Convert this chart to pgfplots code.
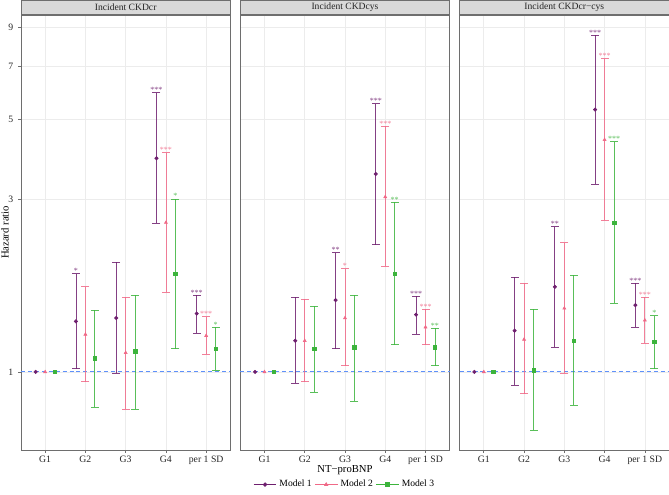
\documentclass[border=0pt]{standalone}
\usepackage{pgfplots}
\pgfplotsset{compat=1.18}
\usepackage{fontspec}
\setmainfont{Liberation Serif}

\definecolor{mA}{RGB}{110,30,110}
\definecolor{mB}{RGB}{240,105,135}
\definecolor{mC}{RGB}{60,180,60}
\definecolor{refline}{RGB}{95,145,250}
\definecolor{stripfill}{RGB}{217,217,217}
\definecolor{borderc}{RGB}{110,110,110}

% one estimate: #1 colour, #2 mark, #3 x, #4 HR, #5 lower, #6 upper, #7 stars
\newcommand{\est}[7]{%
\addplot[#1, opacity=0.85, line width=0.6pt, mark=-, mark size=3pt, forget plot]
  coordinates {(#3,#5) (#3,#6)};
\addplot[#1, only marks, mark=#2, mark size=1.3pt, forget plot]
  coordinates {(#3,#4)};
\node[text=#1, opacity=0.85, font=\fontsize{6}{6}\selectfont, anchor=base, inner sep=0pt]
  at (axis cs:#3,#6) {#7};
}
% facet strip: #1 text
\newcommand{\strip}[1]{%
\node[fill=stripfill, draw=borderc, line width=0.6pt, minimum width=157pt, minimum height=10.5pt,
  inner sep=0pt, anchor=south, font=\fontsize{7.2}{8}\selectfont, text=black!85]
  at (rel axis cs:0.5,1) {#1};
}

\begin{document}
\begin{tikzpicture}
\useasboundingbox (-15.75pt,-33.75pt) rectangle (486pt,337.5pt);

% ---------------- Panel 1 ----------------
\begin{axis}[
  at={(0pt,0pt)}, anchor=south west,
  scale only axis, width=157pt, height=326.25pt,
  ymode=log, ymin=0.608, ymax=9.72, xmin=0.4, xmax=5.6,
  xtick={1,2,3,4,5}, xticklabels={G1,G2,G3,G4,per 1 SD},
  ytick={1,3,5,7,9}, yticklabels={1,3,5,7,9},
  grid=major, major grid style={gray!15, line width=0.5pt},
  axis line style={borderc, line width=0.6pt},
  tick style={borderc, line width=0.5pt}, tick align=outside,
  major tick length=2.2pt, xtick pos=bottom, ytick pos=left,
  ticklabel style={font=\fontsize{7.3}{8}\selectfont, text=black!85},
  xticklabel style={yshift=1.4pt},
  clip=false,
  ylabel={Hazard ratio},
  ylabel style={at={(axis description cs:-0.0766,0.5)}, anchor=center, font=\fontsize{8}{9}\selectfont},
]
\addplot[refline, line width=0.7pt, dash pattern=on 3pt off 2.2pt, forget plot] coordinates {(0.4,1) (5.6,1)};
\addplot[mA, only marks, mark=*, mark size=1.3pt, forget plot] coordinates {(0.765,1)};
\addplot[mB, only marks, mark=triangle*, mark size=1.3pt, forget plot] coordinates {(1,1)};
\addplot[mC, only marks, mark=square*, mark size=1.3pt, forget plot] coordinates {(1.235,1)};
\est{mA}{*}{1.765}{1.38}{1.02}{1.87}{*}
\est{mB}{triangle*}{2}{1.27}{0.94}{1.72}{}
\est{mC}{square*}{2.235}{1.09}{0.80}{1.48}{}
\est{mA}{*}{2.765}{1.41}{0.99}{2.01}{}
\est{mB}{triangle*}{3}{1.13}{0.79}{1.61}{}
\est{mC}{square*}{3.235}{1.14}{0.79}{1.63}{}
\est{mA}{*}{3.765}{3.90}{2.58}{5.92}{***}
\est{mB}{triangle*}{4}{2.59}{1.66}{4.04}{***}
\est{mC}{square*}{4.235}{1.87}{1.16}{3.01}{*}
\est{mA}{*}{4.765}{1.45}{1.28}{1.63}{***}
\est{mB}{triangle*}{5}{1.26}{1.12}{1.42}{***}
\est{mC}{square*}{5.235}{1.16}{1.01}{1.33}{*}
\strip{Incident CKDcr}
\end{axis}

% ---------------- Panel 2 ----------------
\begin{axis}[
  at={(164.5pt,0pt)}, anchor=south west,
  scale only axis, width=157pt, height=326.25pt,
  ymode=log, ymin=0.608, ymax=9.72, xmin=0.4, xmax=5.6,
  xtick={1,2,3,4,5}, xticklabels={G1,G2,G3,G4,per 1 SD},
  ytick={1,3,5,7,9}, yticklabels={}, ytick style={draw=none},
  grid=major, major grid style={gray!15, line width=0.5pt},
  axis line style={borderc, line width=0.6pt},
  tick style={borderc, line width=0.5pt}, tick align=outside,
  major tick length=2.2pt, xtick pos=bottom, ytick pos=left,
  ticklabel style={font=\fontsize{7.3}{8}\selectfont, text=black!85},
  xticklabel style={yshift=1.4pt},
  clip=false,
  xlabel={NT−proBNP},
  xlabel style={at={(axis description cs:0.5,-0.0465)}, anchor=center, font=\fontsize{8}{9}\selectfont},
  legend columns=3,
  legend style={at={(axis description cs:0.5,-0.0795)}, anchor=center, draw=none, fill=none,
    font=\fontsize{7.2}{8}\selectfont},
]
\addplot[refline, line width=0.7pt, dash pattern=on 3pt off 2.2pt, forget plot] coordinates {(0.4,1) (5.6,1)};
\addplot[mA, only marks, mark=*, mark size=1.3pt, forget plot] coordinates {(0.765,1)};
\addplot[mB, only marks, mark=triangle*, mark size=1.3pt, forget plot] coordinates {(1,1)};
\addplot[mC, only marks, mark=square*, mark size=1.3pt, forget plot] coordinates {(1.235,1)};
\est{mA}{*}{1.765}{1.22}{0.93}{1.61}{}
\est{mB}{triangle*}{2}{1.22}{0.94}{1.59}{}
\est{mC}{square*}{2.235}{1.16}{0.88}{1.52}{}
\est{mA}{*}{2.765}{1.58}{1.16}{2.14}{**}
\est{mB}{triangle*}{3}{1.41}{1.04}{1.93}{*}
\est{mC}{square*}{3.235}{1.17}{0.83}{1.63}{}
\est{mA}{*}{3.765}{3.53}{2.25}{5.52}{***}
\est{mB}{triangle*}{4}{3.05}{1.96}{4.78}{***}
\est{mC}{square*}{4.235}{1.87}{1.19}{2.95}{**}
\est{mA}{*}{4.765}{1.44}{1.27}{1.62}{***}
\est{mB}{triangle*}{5}{1.33}{1.19}{1.49}{***}
\est{mC}{square*}{5.235}{1.17}{1.04}{1.32}{**}
\addlegendimage{mA, line width=0.6pt, mark=*, mark size=1.3pt}
\addlegendentry{Model 1}
\addlegendimage{mB, line width=0.6pt, mark=triangle*, mark size=1.3pt}
\addlegendentry{Model 2}
\addlegendimage{mC, line width=0.6pt, mark=square*, mark size=1.3pt}
\addlegendentry{Model 3}
\strip{Incident CKDcys}
\end{axis}

% ---------------- Panel 3 ----------------
\begin{axis}[
  at={(329pt,0pt)}, anchor=south west,
  scale only axis, width=157pt, height=326.25pt,
  ymode=log, ymin=0.608, ymax=9.72, xmin=0.4, xmax=5.6,
  xtick={1,2,3,4,5}, xticklabels={G1,G2,G3,G4,per 1 SD},
  ytick={1,3,5,7,9}, yticklabels={}, ytick style={draw=none},
  grid=major, major grid style={gray!15, line width=0.5pt},
  axis line style={borderc, line width=0.6pt},
  tick style={borderc, line width=0.5pt}, tick align=outside,
  major tick length=2.2pt, xtick pos=bottom, ytick pos=left,
  ticklabel style={font=\fontsize{7.3}{8}\selectfont, text=black!85},
  xticklabel style={yshift=1.4pt},
  clip=false,
]
\addplot[refline, line width=0.7pt, dash pattern=on 3pt off 2.2pt, forget plot] coordinates {(0.4,1) (5.6,1)};
\addplot[mA, only marks, mark=*, mark size=1.3pt, forget plot] coordinates {(0.765,1)};
\addplot[mB, only marks, mark=triangle*, mark size=1.3pt, forget plot] coordinates {(1,1)};
\addplot[mC, only marks, mark=square*, mark size=1.3pt, forget plot] coordinates {(1.235,1)};
\est{mA}{*}{1.765}{1.30}{0.92}{1.83}{}
\est{mB}{triangle*}{2}{1.23}{0.87}{1.76}{}
\est{mC}{square*}{2.235}{1.01}{0.69}{1.49}{}
\est{mA}{*}{2.765}{1.72}{1.17}{2.52}{**}
\est{mB}{triangle*}{3}{1.50}{0.99}{2.28}{}
\est{mC}{square*}{3.235}{1.22}{0.81}{1.85}{}
\est{mA}{*}{3.765}{5.32}{3.31}{8.55}{***}
\est{mB}{triangle*}{4}{4.39}{2.63}{7.36}{***}
\est{mC}{square*}{4.235}{2.59}{1.55}{4.34}{***}
\est{mA}{*}{4.765}{1.53}{1.33}{1.76}{***}
\est{mB}{triangle*}{5}{1.39}{1.20}{1.61}{***}
\est{mC}{square*}{5.235}{1.21}{1.02}{1.43}{*}
\strip{Incident CKDcr−cys}
\end{axis}
\end{tikzpicture}
\end{document}
